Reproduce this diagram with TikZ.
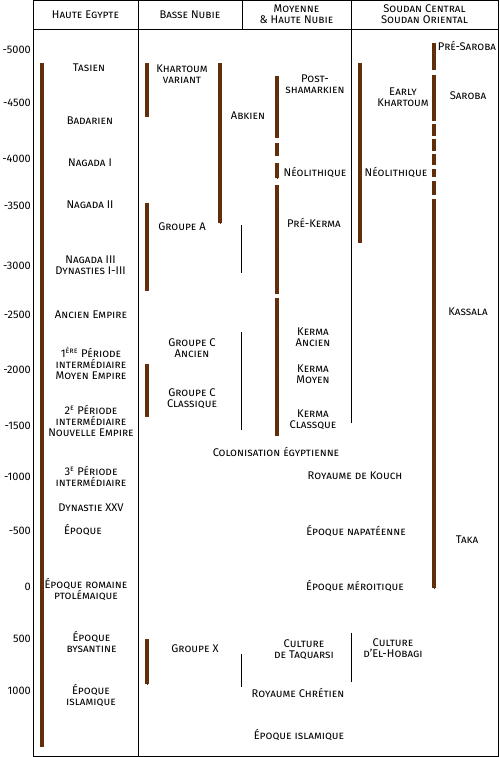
\documentclass[tikz,border=0pt]{standalone}
\usepackage{fontspec}
\setmainfont{Fira Sans}
\definecolor{barbrown}{HTML}{5C2E0A}
\definecolor{bardot}{HTML}{8A2A12}
\tikzset{
  lab/.style={font=\fontsize{11.2}{11}\selectfont\scshape, align=center, inner sep=0pt},
  yr/.style={font=\fontsize{11}{11}\selectfont, anchor=east, inner sep=0pt},
  frame/.style={line width=0.9bp, draw=black},
  thin/.style={line width=0.9bp, draw=black},
  bar/.style={line width=3.8bp, draw=barbrown},
  bardots/.style={line width=0.5bp, draw=bardot, dotted}
}
\newcommand{\tbar}[3]{\draw[bar] (#1,#2) -- (#1,#3); \draw[bardots] (#1,#2) -- (#1,#3);}
\begin{document}
\begin{tikzpicture}[x=1bp,y=-1bp]
\useasboundingbox (0,0) rectangle (500,757);
% frame
\draw[frame] (33,0.5) rectangle (498.5,756);
\draw[frame] (33,29) -- (498.5,29);
\draw[frame] (138,0.5) -- (138,756);
\draw[frame] (242,0.5) -- (242,29);
\draw[frame] (351,0.5) -- (351,423);
\draw[thin] (351,633) -- (351,682);
\draw[thin] (241.5,225) -- (241.5,273);
\draw[thin] (241.5,332) -- (241.5,430);
\draw[thin] (241.5,654) -- (241.5,687);
% headers
\node[lab] (h1) at (85.5,15) {Haute Egypte};
\node[lab] (h2) at (190,15) {Basse Nubie};
\node[lab] (h3) at (296.5,14.5) {Moyenne\\\& Haute Nubie};
\node[lab] (h4) at (424.5,14.5) {Soudan Central\\Soudan Oriental};
% years
\node[yr] (y1) at (31,50) {-5000};
\node[yr] (y2) at (31,103) {-4500};
\node[yr] (y3) at (31,159) {-4000};
\node[yr] (y4) at (31,206) {-3500};
\node[yr] (y5) at (31,266) {-3000};
\node[yr] (y6) at (31,315) {-2500};
\node[yr] (y7) at (31,370) {-2000};
\node[yr] (y8) at (31,426) {-1500};
\node[yr] (y9) at (31,477) {-1000};
\node[yr] (y10) at (31,531) {-500};
\node[yr] (y11) at (31,587) {0};
\node[yr] (y12) at (31,639) {500};
\node[yr] (y13) at (31,691) {1000};
% bars
\tbar{42}{63}{747}
\tbar{147}{63}{117}
\tbar{147}{203}{291}
\tbar{147}{364}{417}
\tbar{147}{639}{684}
\tbar{220}{63}{223}
\tbar{277}{76}{138}
\tbar{277}{143}{156}
\tbar{277}{163}{178}
\tbar{277}{185}{294}
\tbar{277}{298}{436}
\tbar{360}{63}{243}
\tbar{434}{43}{70}
\tbar{434}{75}{121}
\tbar{434}{124}{136}
\tbar{434}{139}{151}
\tbar{434}{154}{165}
\tbar{434}{169}{177}
\tbar{434}{181}{195}
\tbar{434}{199}{588}
% Haute Egypte
\node[lab] (e1) at (89,68) {Tasien};
\node[lab] (e2) at (90,121) {Badarien};
\node[lab] (e3) at (90,163) {Nagada I};
\node[lab] (e4) at (90,205) {Nagada II};
\node[lab] (e5) at (90.5,265.5) {Nagada III\\Dynasties I-III};
\node[lab] (e6) at (91,315) {Ancien Empire};
\node[lab] (e7) at (91,363.5) {1\textsuperscript{ère} Période\\intermédiaire\\Moyen Empire};
\node[lab] (e8) at (91,420.5) {2\textsuperscript{e} Période\\intermédiaire\\Nouvelle Empire};
\node[lab] (e9) at (91,476) {3\textsuperscript{e} Période\\intermédiaire};
\node[lab] (e10) at (91,508) {Dynastie XXV};
\node[lab] (e11) at (83,530) {Époque};
\node[lab] (e12) at (86,589) {Époque romaine\\ptolémaique};
\node[lab] (e13) at (91.5,642) {Époque\\bysantine};
\node[lab] (e14) at (91,695.5) {Époque\\islamique};
% Basse Nubie
\node[lab] (b1) at (182,74) {Khartoum\\variant};
\node[lab] (b2) at (248,116) {Abkien};
\node[lab] (b3) at (182,227) {Groupe A};
\node[lab] (b4) at (192,348.5) {Groupe C\\Ancien};
\node[lab] (b5) at (192,399) {Groupe C\\Classique};
\node[lab] (b6) at (276,452) {Colonisation égyptienne};
\node[lab] (b7) at (195,649) {Groupe X};
% Moyenne & Haute Nubie
\node[lab] (m1) at (315,84.5) {Post-\\shamarkien};
\node[lab] (m2) at (315,172) {Néolithique};
\node[lab] (m3) at (314,223) {Pré-Kerma};
\node[lab] (m4) at (313,337) {Kerma\\Ancien};
\node[lab] (m5) at (313,374) {Kerma\\Moyen};
\node[lab] (m6) at (313,419.5) {Kerma\\Classque};
\node[lab] (m7) at (355,476) {Royaume de Kouch};
\node[lab] (m8) at (356,531) {Époque napatéenne};
\node[lab] (m9) at (355,586) {Époque méroitique};
\node[lab] (m10) at (304,650) {Culture\\de Taquarsi};
\node[lab] (m11) at (298,693) {Royaume Chrétien};
\node[lab] (m12) at (299,735) {Époque islamique};
% Soudan
\node[lab] (s1) at (403,97.5) {Early\\Khartoum};
\node[lab] (s2) at (396,172) {Néolithique};
\node[lab] (s3) at (393,648.5) {Culture\\d'El-Hobagi};
\node[lab] (s4) at (467,46) {Pré-Saroba};
\node[lab] (s5) at (468,96) {Saroba};
\node[lab] (s6) at (468,312) {Kassala};
\node[lab] (s7) at (467,540) {Taka};
\end{tikzpicture}
\end{document}
